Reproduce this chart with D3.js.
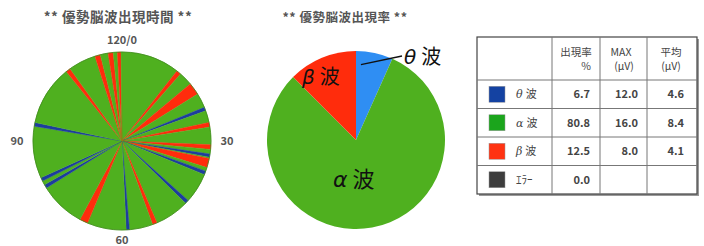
<!DOCTYPE html>
<html>
<head>
<meta charset="utf-8">
<script src="https://cdn.jsdelivr.net/npm/d3@7"></script>
<style>
body { margin: 0; background: #fff; }
svg text { font-family: "Noto Sans CJK JP", "Noto Sans", sans-serif; }
</style>
</head>
<body>
<svg id="main" width="704" height="246"></svg>
<script>
svg = d3.select("#main")

// non-alpha episodes on the 0..120 time dial (start, end, wave)
epStart = [12.7, 16.7, 22.6, 26.0, 30.8, 32.8, 33.8, 36.6, 44.0, 52.3, 58.4, 67.6, 79.4, 81.1, 93.2, 107.1, 114.1, 117.0, 119.0]
epEnd   = [13.7, 19.4, 23.4, 27.0, 31.8, 33.5, 35.8, 37.4, 44.8, 53.3, 59.1, 69.4, 80.2, 81.9, 94.0, 108.1, 115.3, 118.1, 119.8]
epWave  = ["b", "b", "t", "b", "b", "t", "b", "t", "t", "b", "t", "b", "t", "t", "t", "b", "b", "b", "b"]
dialMax = 120
dialTicks = [0, 30, 60, 90]
dialLabels = ["120/0", "30", "60", "90"]

// appearance rate
rateWave = ["θ 波", "α 波", "β 波"]
rateVal  = [6.7, 80.8, 12.5]

// table
rowName = ["θ 波", "α 波", "β 波", "ｴﾗｰ"]
rowRate = ["6.7", "80.8", "12.5", "0.0"]
rowMax  = ["12.0", "16.0", "8.0", ""]
rowAvg  = ["4.6", "8.4", "4.1", ""]

pieCol = {a: "#4fb01f", t: "#1d3d9e", b: "#ff2c0c"}
rateCol = ["#2f8ef3", "#4fb01f", "#ff2c0c"]
swatch = ["#1442a2", "#1ba51c", "#ff3312", "#3d3d3d"]

// ---- left: time dial ----
runs = []
var t = 0
for (var i = 0; i < epStart.length; i++) {
  if (epStart[i] > t) runs.push({w: "a", v: epStart[i] - t})
  runs.push({w: epWave[i], v: epEnd[i] - epStart[i]})
  t = epEnd[i]
}
if (t < dialMax) runs.push({w: "a", v: dialMax - t})

var cx1 = 122, cy1 = 141, r1 = 89
var g1 = svg.append("g").attr("transform", "translate(" + cx1 + "," + cy1 + ")")
var pie = d3.pie().sort(null).value(function(d) { return d.v })
var arc1 = d3.arc().innerRadius(0).outerRadius(r1)
g1.selectAll("path").data(pie(runs)).enter().append("path")
  .attr("d", arc1)
  .attr("fill", function(d) { return pieCol[d.data.w] })
  .attr("stroke", function(d) { return pieCol[d.data.w] })
  .attr("stroke-width", 0.4)
g1.append("circle").attr("r", r1).attr("fill", "none")
  .attr("stroke", "#3f8a1c").attr("stroke-width", 0.8)

var ang = d3.scaleLinear().domain([0, dialMax]).range([0, 2 * Math.PI])
var lblR = [r1 + 12, r1 + 16, r1 + 10, r1 + 16]
g1.selectAll("text.tk").data(dialTicks).enter().append("text")
  .attr("class", "tk")
  .attr("x", function(d, i) { return Math.sin(ang(d)) * lblR[i] })
  .attr("y", function(d, i) { return -Math.cos(ang(d)) * lblR[i] })
  .attr("dy", "0.35em")
  .attr("text-anchor", "middle")
  .attr("font-size", 11)
  .attr("font-weight", "bold")
  .attr("fill", "#555")
  .text(function(d, i) { return dialLabels[i] })

svg.append("text").attr("x", 118).attr("y", 22).attr("text-anchor", "middle")
  .attr("font-size", 13.5).attr("font-weight", "bold").attr("fill", "#555")
  .attr("letter-spacing", 0.5)
  .text("**  優勢脳波出現時間  **")

// ---- middle: rate pie ----
var cx2 = 356, cy2 = 140, r2 = 89
var g2 = svg.append("g").attr("transform", "translate(" + cx2 + "," + cy2 + ")")
var pie2 = d3.pie().sort(null)
var arcs2 = pie2(rateVal)
var arc2 = d3.arc().innerRadius(0).outerRadius(r2)
g2.selectAll("path").data(arcs2).enter().append("path")
  .attr("d", arc2)
  .attr("fill", function(d, i) { return rateCol[i] })

svg.append("text").attr("x", 345).attr("y", 22).attr("text-anchor", "middle")
  .attr("font-size", 12.5).attr("font-weight", "bold").attr("fill", "#555")
  .attr("letter-spacing", 0.5)
  .text("**  優勢脳波出現率  **")

// slice labels
var thetaIn = d3.arc().innerRadius(r2 * 0.75).outerRadius(r2 * 0.75).centroid(arcs2[0])
g2.append("line")
  .attr("x1", thetaIn[0] - 9).attr("y1", thetaIn[1] - 10)
  .attr("x2", 46).attr("y2", -84)
  .attr("stroke", "#111").attr("stroke-width", 1.3)
var lbl = [
  {i: 0, x: 48, y: -76, s: 20},
  {i: 2, x: -54, y: -56, s: 20},
  {i: 1, x: -23, y: 47, s: 22}
]
lbl.forEach(function(l) {
  var tx = g2.append("text").attr("x", l.x).attr("y", l.y)
    .attr("font-size", l.s).attr("fill", "#111")
  tx.append("tspan").attr("font-style", "italic")
    .attr("font-family", "DejaVu Sans, sans-serif")
    .text(rateWave[l.i].split(" ")[0])
  tx.append("tspan").attr("dx", 5).text("波")
})

// ---- right: table ----
var tx0 = 477, ty0 = 37
var colX = [tx0, 552, 600, 647, 697]
var rowY = [ty0, 80, 108.5, 137, 165.5, 194]
var tb = svg.append("g")
tb.append("rect").attr("x", colX[0] + 2).attr("y", rowY[0] + 2)
  .attr("width", colX[4] - colX[0]).attr("height", rowY[5] - rowY[0])
  .attr("fill", "#999")
tb.append("rect").attr("x", colX[0]).attr("y", rowY[0])
  .attr("width", colX[4] - colX[0]).attr("height", rowY[5] - rowY[0])
  .attr("fill", "#fff").attr("stroke", "#444").attr("stroke-width", 1.2)
colX.slice(1, 4).forEach(function(x) {
  tb.append("line").attr("x1", x).attr("x2", x)
    .attr("y1", rowY[0]).attr("y2", rowY[5]).attr("stroke", "#777")
})
rowY.slice(1, 5).forEach(function(y) {
  tb.append("line").attr("x1", colX[0]).attr("x2", colX[4])
    .attr("y1", y).attr("y2", y).attr("stroke", "#777")
})

var head = [
  {x: 576, y: 56, t: "出現率", a: "middle"},
  {x: 591, y: 70, t: "%", a: "end"},
  {x: 621, y: 56, t: "MAX", a: "middle"},
  {x: 624, y: 70, t: "(μV)", a: "middle"},
  {x: 671, y: 56, t: "平均", a: "middle"},
  {x: 671, y: 70, t: "(μV)", a: "middle"}
]
tb.selectAll("text.h").data(head).enter().append("text")
  .attr("class", "h")
  .attr("x", function(d) { return d.x }).attr("y", function(d) { return d.y })
  .attr("text-anchor", function(d) { return d.a })
  .attr("font-size", 10.5).attr("fill", "#444")
  .text(function(d) { return d.t })

rowName.forEach(function(n, i) {
  var yc = (rowY[i + 1] + rowY[i + 2]) / 2
  tb.append("rect").attr("x", 489).attr("y", yc - 8).attr("width", 16).attr("height", 16)
    .attr("fill", swatch[i]).attr("stroke", "#999").attr("stroke-width", 0.5)
  var nt = tb.append("text").attr("x", 516).attr("y", yc).attr("dy", "0.35em")
    .attr("font-size", 11).attr("fill", "#444")
  var p = n.split(" ")
  if (p.length > 1) {
    nt.append("tspan").attr("font-style", "italic").attr("font-family", "DejaVu Serif, serif").text(p[0])
    nt.append("tspan").attr("dx", 3).text(p[1])
  } else nt.text(n)
  var cells = [rowRate[i], rowMax[i], rowAvg[i]]
  var ends = [590, 638, 684]
  cells.forEach(function(c, j) {
    tb.append("text").attr("x", ends[j]).attr("y", yc).attr("dy", "0.35em")
      .attr("text-anchor", "end").attr("font-size", 11).attr("font-weight", "bold")
      .attr("fill", "#444").text(c)
  })
})
</script>
</body>
</html>
